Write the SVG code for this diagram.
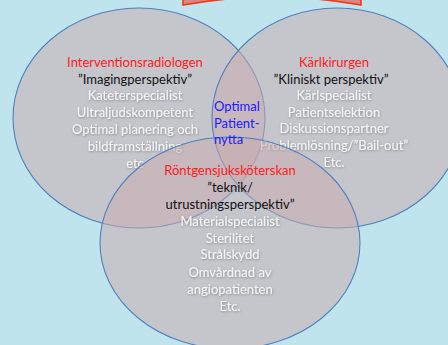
<svg xmlns="http://www.w3.org/2000/svg" width="448" height="345" viewBox="0 0 448 345">
<defs>
<filter id="sh" x="-10%" y="-30%" width="120%" height="160%">
<feDropShadow dx="0.6" dy="1" stdDeviation="0.8" flood-color="#000" flood-opacity="0.3"/>
</filter>
</defs>
<style>
.c{fill:rgb(200,171,174);fill-opacity:0.53;stroke:#4f81bd;stroke-width:1.1}
text{font-family:Lato,"Liberation Sans",sans-serif;font-size:13px;text-anchor:middle}
.t{fill:#ff1a1a}
.q{fill:#111}
.w{fill:#f4f4f4;filter:url(#sh)}
.b{fill:#1a1aff;text-anchor:start}
</style>
<rect width="448" height="345" fill="#c0e4ee"/>
<g id="topbox">
<path d="M183,-6 L183,5 Q272,-11 361,5 L361,-6 Z" fill="#d98a80" stroke="#f2361c" stroke-width="1.6"/>
</g>
<g id="connectors"></g>
<g id="interventionsradiologen">
<ellipse class="c" cx="139" cy="118" rx="126" ry="110"/>
<text class="t" x="135" y="66.5">Interventionsradiologen</text>
<text class="q" x="135" y="83.5">”Imagingperspektiv”</text>
<text class="w" x="135" y="99.5">Kateterspecialist</text>
<text class="w" x="135" y="116.5">Ultraljudskompetent</text>
<text class="w" x="135" y="133.5">Optimal planering och</text>
<text class="w" x="135" y="150.5">bildframställning</text>
<text class="w" x="135" y="167.5">etc</text>
</g>
<g id="karlkirurgen">
<ellipse class="c" cx="337" cy="118" rx="125" ry="110"/>
<text class="t" x="334" y="66.5">Kärlkirurgen</text>
<text class="q" x="331" y="83.5">”Kliniskt perspektiv”</text>
<text class="w" x="334" y="99.5">Kärlspecialist</text>
<text class="w" x="334" y="116.5">Patientselektion</text>
<text class="w" x="334" y="133">Diskussionspartner</text>
<text class="w" x="334" y="150">Problemlösning/”Bail-out”</text>
<text class="w" x="334" y="167">Etc.</text>
</g>
<g id="rontgensjukskoterskan">
<ellipse class="c" cx="230" cy="243" rx="130" ry="106"/>
<text class="t" x="230" y="174.5">Röntgensjuksköterskan</text>
<text class="q" x="230" y="191.5">”teknik/</text>
<text class="q" x="230" y="208.5">utrustningsperspektiv”</text>
<text class="w" x="230" y="225.5">Materialspecialist</text>
<text class="w" x="230" y="242.5">Sterilitet</text>
<text class="w" x="230" y="259">Strålskydd</text>
<text class="w" x="230" y="276.5">Omvårdnad av</text>
<text class="w" x="230" y="293.5">angiopatienten</text>
<text class="w" x="230" y="310.5">Etc.</text>
</g>
<g id="optimal">
<text class="b" x="214" y="110.5">Optimal</text>
<text class="b" x="214" y="127.5">Patient-</text>
<text class="b" x="214" y="143.5">nytta</text>
</g>
</svg>
